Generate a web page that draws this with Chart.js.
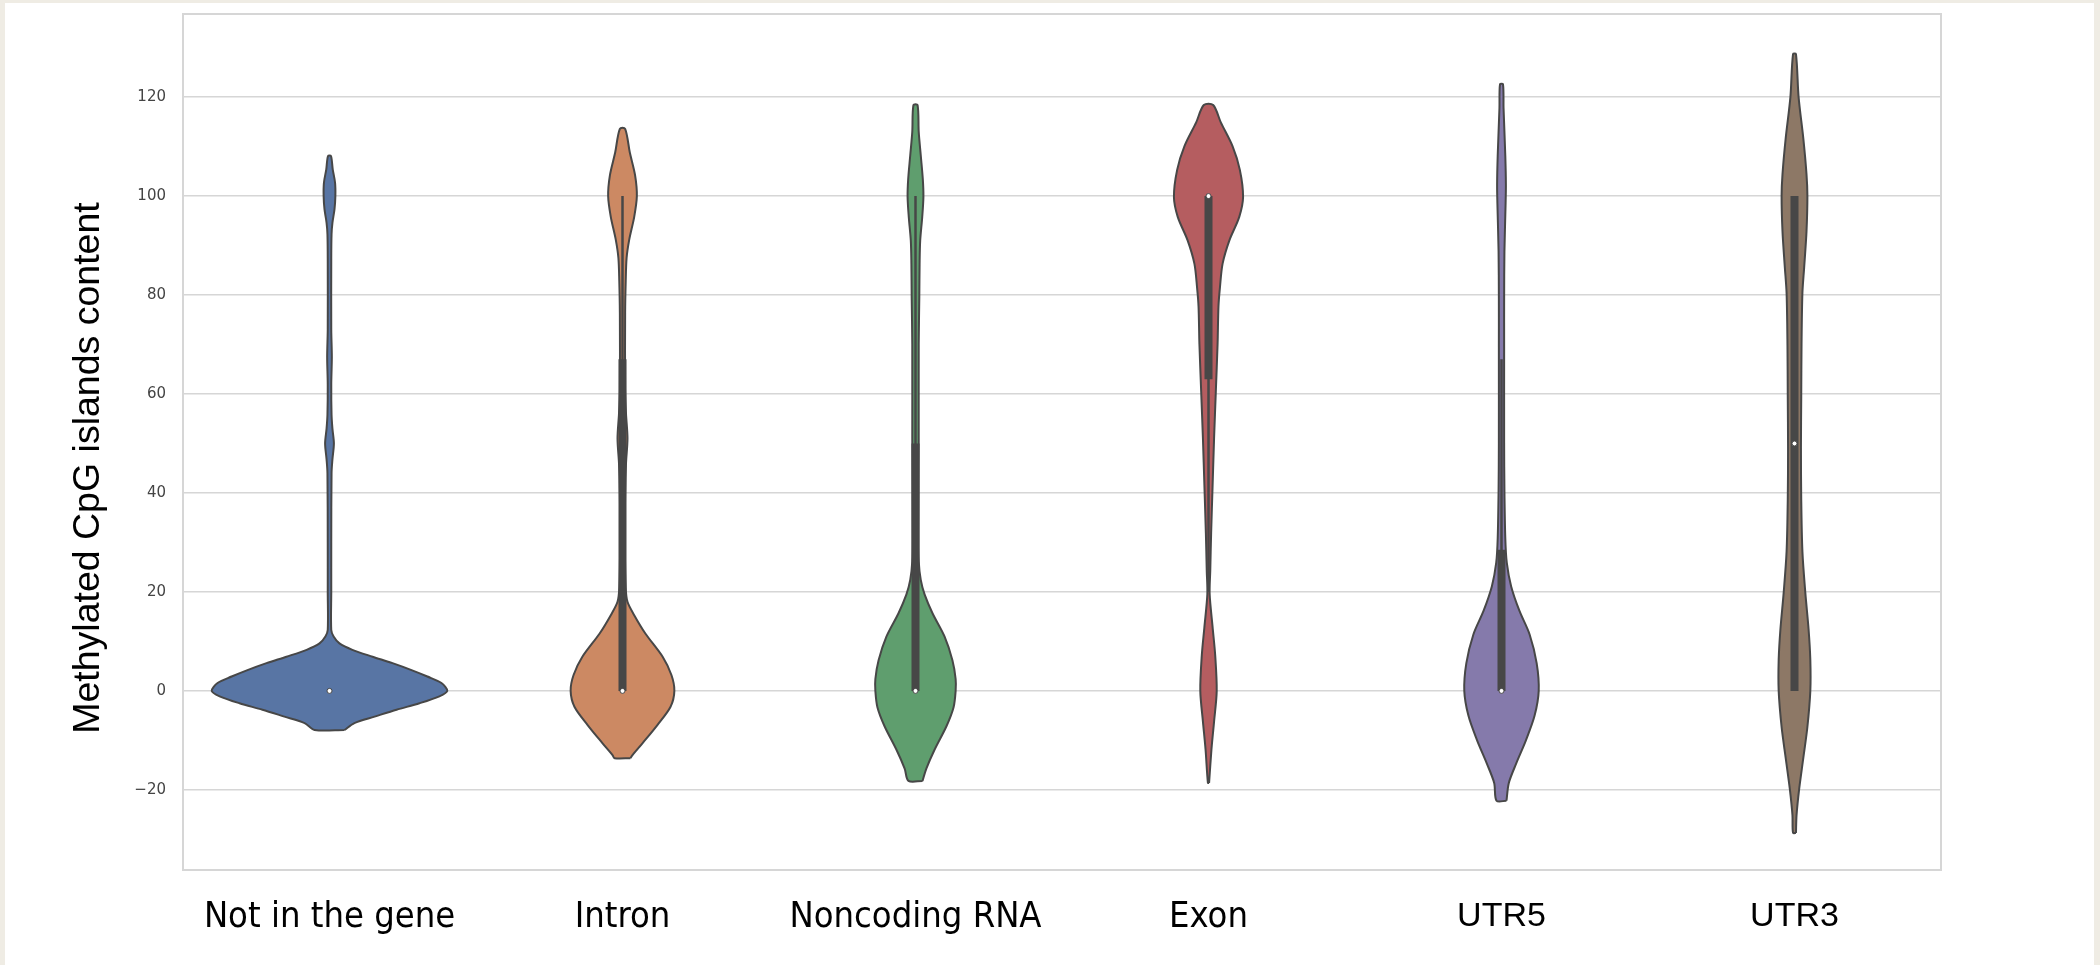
<!DOCTYPE html>
<html>
<head>
<meta charset="utf-8">
<script src="https://cdn.jsdelivr.net/npm/chart.js@4.4.1/dist/chart.umd.min.js"></script>
<style>
  html, body { margin: 0; padding: 0; background: #efece4; }
  #panel { position: absolute; left: 5px; top: 3px; width: 2089px; height: 962px; background: #fff; }
  #myChart { position: absolute; left: 0; top: 0; }
</style>
</head>
<body>
<div id="panel"></div>
<canvas id="myChart" width="2100" height="965"></canvas>
<script>
const categories = ['Not in the gene', 'Intron', 'Noncoding RNA', 'Exon', 'UTR5', 'UTR3'];
const yTicks = [-20, 0, 20, 40, 60, 80, 100, 120];

// violin outlines: value levels and half width (in category units) at each level
const notInGeneLevels = [-7.9, -6.5, -5.2, -3.8, -2.5, -1.1, 0, 1.6, 2.9, 4.2, 5.6, 6.9, 8.3, 9.6, 11, 12.3, 20, 30, 44, 46.8, 50, 53, 55.8, 62, 67.5, 73, 87.4, 92.3, 94.6, 97.3, 100, 102.7, 105.4, 108.1];
const notInGeneDensity = [0.051, 0.085, 0.154, 0.229, 0.307, 0.375, 0.402, 0.382, 0.334, 0.280, 0.215, 0.147, 0.078, 0.034, 0.014, 0.006, 0.006, 0.006, 0.007, 0.010, 0.015, 0.010, 0.007, 0.006, 0.008, 0.006, 0.006, 0.007, 0.010, 0.017, 0.020, 0.019, 0.011, 0.005];

const intronLevels = [-13.6, -13, -10.6, -6.9, -3.2, 0, 3.2, 6.9, 11.6, 15.3, 18, 20.8, 30, 40, 46, 51, 56, 61, 76.4, 82.9, 87.5, 91.2, 95.8, 100, 104.2, 108.8, 113.6];
const intronDensity = [0.027, 0.034, 0.068, 0.119, 0.164, 0.177, 0.167, 0.137, 0.078, 0.040, 0.017, 0.011, 0.008, 0.009, 0.012, 0.017, 0.012, 0.009, 0.009, 0.011, 0.014, 0.023, 0.040, 0.049, 0.043, 0.025, 0.009];

const noncodingLevels = [-18.2, -15.7, -11.9, -7.1, -3.3, 0, 2.4, 6.2, 11, 15.7, 19.5, 22.4, 26.2, 31.9, 51, 70, 79.6, 86.3, 91, 95.8, 99.8, 103.4, 108.2, 113, 118.4];
const noncodingDensity = [0.024, 0.037, 0.065, 0.106, 0.130, 0.137, 0.137, 0.126, 0.099, 0.058, 0.031, 0.018, 0.011, 0.010, 0.011, 0.011, 0.013, 0.014, 0.016, 0.023, 0.027, 0.025, 0.018, 0.011, 0.007];

const exonLevels = [-18.6, -11.9, -6.2, 0, 7.1, 12.9, 19.5, 24.3, 31.9, 41.5, 51, 60.5, 70.1, 77.7, 81.5, 86.3, 91, 95.8, 99.8, 105.3, 110.1, 114.9, 118.4];
const exonDensity = [0.002, 0.010, 0.019, 0.028, 0.023, 0.014, 0.004, 0.006, 0.009, 0.014, 0.019, 0.025, 0.031, 0.034, 0.039, 0.048, 0.071, 0.105, 0.118, 0.107, 0.082, 0.042, 0.016];

const utr5Levels = [-22.2, -18.6, -14.7, -9.9, -5, 0, 5.6, 11.4, 16.2, 21.1, 25.9, 30.8, 40.4, 50.1, 69.5, 79.2, 88.8, 98.5, 102.3, 108.1, 117.8, 122.6];
const utr5Density = [0.017, 0.025, 0.050, 0.084, 0.113, 0.127, 0.120, 0.096, 0.061, 0.033, 0.018, 0.013, 0.010, 0.009, 0.009, 0.009, 0.010, 0.014, 0.015, 0.013, 0.007, 0.005];

const utr3Levels = [-28.7, -25.1, -19.8, -13.6, -7.3, 0, 6.3, 12.5, 19.8, 28.2, 38.6, 49.1, 59.5, 69.9, 80.4, 85.6, 92.9, 100, 104.4, 111.7, 120, 128.7];
const utr3Density = [0.005, 0.007, 0.016, 0.030, 0.044, 0.054, 0.054, 0.048, 0.037, 0.027, 0.023, 0.022, 0.023, 0.024, 0.027, 0.033, 0.041, 0.044, 0.041, 0.030, 0.014, 0.005];

// inner box: quartiles, whiskers, median
const medians = [0, 0, 0, 100, 0, 50];
const q1 = [0, 0, 0, 63, 0, 0];
const q3 = [0, 67, 50, 100, 28.5, 100];
const whiskerLow = [0, 0, 0, 20, 0, 0];
const whiskerHigh = [0, 100, 100, 100, 67, 100];

const violinLevels = [notInGeneLevels, intronLevels, noncodingLevels, exonLevels, utr5Levels, utr3Levels];
const violinDensity = [notInGeneDensity, intronDensity, noncodingDensity, exonDensity, utr5Density, utr3Density];

const fillColors = ['#5875a4', '#cc8963', '#5f9e6e', '#b55d60', '#857aab', '#8d7866'];
const lineGray = '#474747';

function violinShape(i) {
  const levels = violinLevels[i];
  const dens = violinDensity[i];
  const right = levels.map((v, k) => ({x: i + dens[k], y: v}));
  const left = levels.map((v, k) => ({x: i - dens[k], y: v})).reverse();
  return right.concat(left, [right[0]]);
}

const datasets = [];
categories.forEach((name, i) => {
  datasets.push({
    type: 'line',
    label: name,
    data: violinShape(i),
    backgroundColor: fillColors[i],
    borderColor: lineGray,
    borderWidth: 2,
    fill: 'shape',
    tension: 0.3,
    pointRadius: 0,
    order: 3
  });
});
categories.forEach((name, i) => {
  // whisker
  datasets.push({
    type: 'line',
    data: [{x: i, y: whiskerLow[i]}, {x: i, y: whiskerHigh[i]}],
    borderColor: lineGray,
    borderWidth: 2.5,
    borderCapStyle: 'butt',
    pointRadius: 0,
    fill: false,
    order: 2
  });
  // box
  datasets.push({
    type: 'line',
    data: [{x: i, y: q1[i]}, {x: i, y: q3[i]}],
    borderColor: lineGray,
    borderWidth: 8,
    borderCapStyle: 'butt',
    pointRadius: 0,
    fill: false,
    order: 1
  });
});
datasets.push({
  type: 'scatter',
  data: medians.map((m, i) => ({x: i, y: m})),
  pointRadius: 2.5,
  pointBackgroundColor: '#ffffff',
  pointBorderColor: lineGray,
  pointBorderWidth: 1,
  order: 0
});

// light frame around the plot area
const frame = {
  id: 'frame',
  beforeDatasetsDraw(chart) {
    const {ctx, chartArea: a} = chart;
    ctx.save();
    ctx.strokeStyle = '#d6d6d6';
    ctx.lineWidth = 2;
    ctx.strokeRect(a.left, a.top, a.right - a.left, a.bottom - a.top);
    ctx.restore();
  }
};

var ctx = document.getElementById('myChart').getContext('2d');
var myChart = new Chart(ctx, {
  type: 'scatter',
  data: { datasets: datasets },
  plugins: [frame],
  options: {
    responsive: false,
    animation: false,
    layout: { padding: { left: 40, right: 159, top: 14, bottom: 0 } },
    plugins: {
      legend: { display: false },
      tooltip: { enabled: false }
    },
    scales: {
      x: {
        type: 'linear',
        min: -0.5,
        max: 5.5,
        grid: { display: false, drawTicks: false },
        border: { display: false },
        afterBuildTicks: (scale) => { scale.ticks = categories.map((c, i) => ({value: i})); },
        afterFit: (scale) => { scale.height = 95; },
        ticks: {
          autoSkip: false,
          maxRotation: 0,
          padding: 26,
          color: '#000',
          font: (c) => c.index >= 4
            ? {family: 'Liberation Sans', size: 34}
            : {family: 'DejaVu Sans Condensed', size: 36},
          callback: (value) => categories[value]
        }
      },
      y: {
        type: 'linear',
        min: -36.2,
        max: 136.8,
        grid: { color: '#d6d6d6', lineWidth: 1.5, drawTicks: false },
        border: { display: false },
        afterBuildTicks: (scale) => { scale.ticks = yTicks.map(v => ({value: v})); },
        afterFit: (scale) => {
          scale.width = 143;
          scale.paddingTop = 0;
          scale.paddingBottom = 0;
        },
        ticks: {
          padding: 17,
          color: '#444',
          font: { family: 'DejaVu Sans', size: 15 },
          callback: (v) => v < 0 ? '\u2212' + Math.abs(v) : String(v)
        },
        title: {
          display: true,
          text: 'Methylated CpG islands content     ',
          color: '#000',
          font: { family: 'Liberation Sans', size: 37.5 },
          padding: { top: 26, bottom: 0 }
        }
      }
    }
  }
});
</script>
</body>
</html>
